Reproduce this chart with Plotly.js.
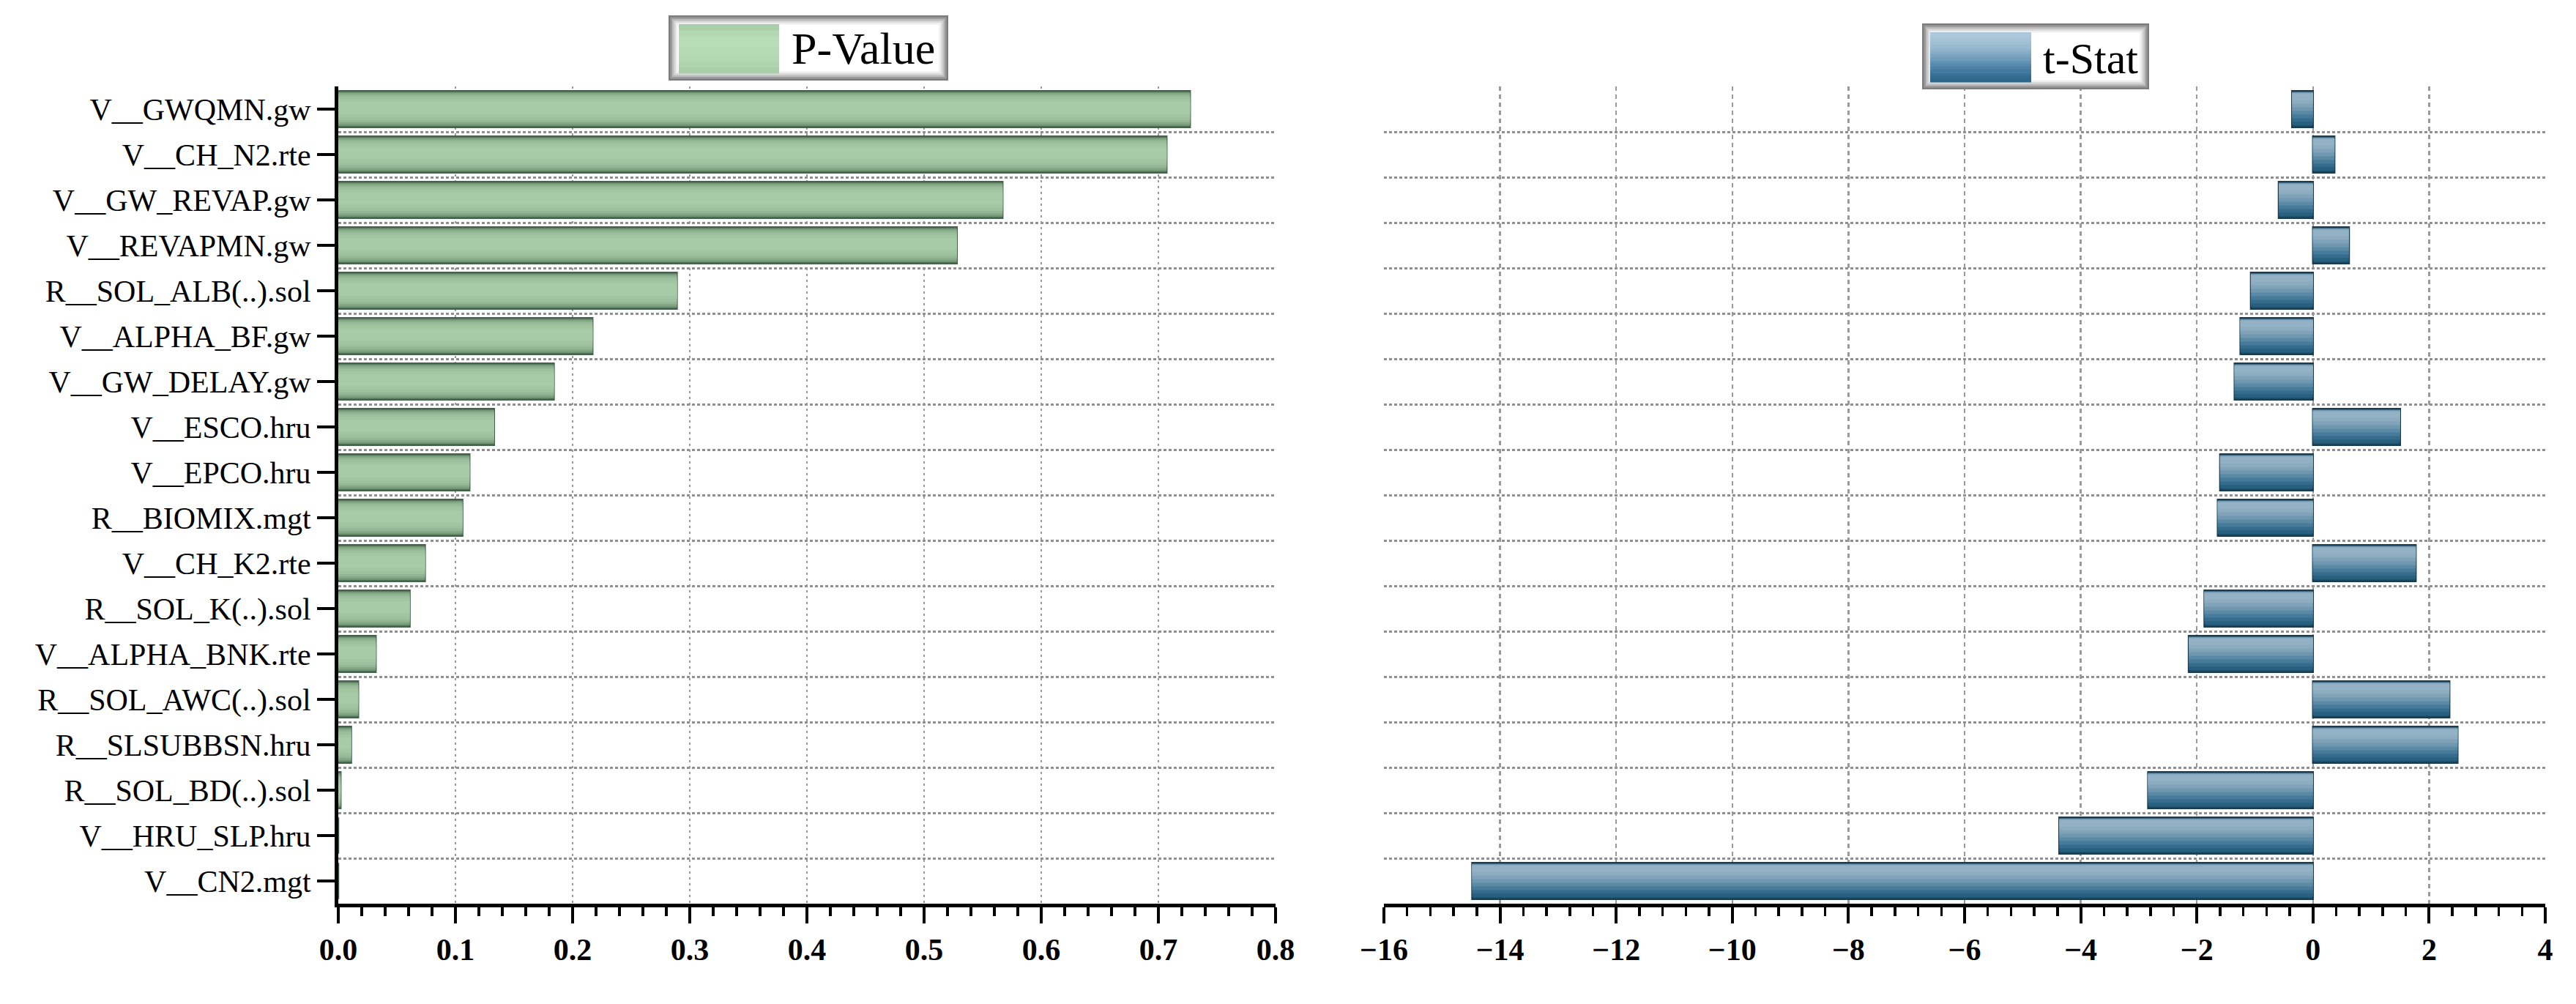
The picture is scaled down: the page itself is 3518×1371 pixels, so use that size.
<!DOCTYPE html>
<html>
<head>
<meta charset="utf-8">
<script src="https://cdn.plot.ly/plotly-3.0.1.min.js"></script>
<style>
  html, body { margin: 0; padding: 0; background: #ffffff; }
  #chart { width: 3518px; height: 1371px; }
</style>
</head>
<body>
<div id="chart"></div>
<script>
// ---------------- data ----------------
const categories = [
  'V__GWQMN.gw', 'V__CH_N2.rte', 'V__GW_REVAP.gw', 'V__REVAPMN.gw',
  'R__SOL_ALB(..).sol', 'V__ALPHA_BF.gw', 'V__GW_DELAY.gw', 'V__ESCO.hru',
  'V__EPCO.hru', 'R__BIOMIX.mgt', 'V__CH_K2.rte', 'R__SOL_K(..).sol',
  'V__ALPHA_BNK.rte', 'R__SOL_AWC(..).sol', 'R__SLSUBBSN.hru', 'R__SOL_BD(..).sol',
  'V__HRU_SLP.hru', 'V__CN2.mgt'
];
const pValues = [0.727, 0.707, 0.567, 0.528, 0.289, 0.217, 0.184, 0.133,
                 0.112, 0.106, 0.074, 0.061, 0.032, 0.017, 0.011, 0.002,
                 0.000, 0.000];
const tStat = [-0.36, 0.37, -0.59, 0.62, -1.07, -1.25, -1.35, 1.50,
               -1.60, -1.64, 1.77, -1.87, -2.14, 2.35, 2.49, -2.84,
               -4.37, -14.48];
const legendNames = ['P-Value', 't-Stat'];

// ---------------- helpers ----------------
const W = 3518, H = 1371;
const FONT = 'Liberation Serif, Times New Roman, serif';
const rowIndex = categories.map((c, i) => i);
const boundaries = rowIndex.slice(1).map(i => i - 0.5);
const px = x => x / W;
const py = y => 1 - y / H;

// each layer: [top, bottom] (in row units relative to the row centre), colour
function layerTraces(xVals, xa, ya, layers) {
  return layers.map(L => ({
    type: 'bar', orientation: 'h',
    x: xVals, y: rowIndex,
    xaxis: xa, yaxis: ya,
    offset: L.top,
    width: L.bottom - L.top,
    marker: { color: L.color, line: { color: L.line || L.color, width: L.lw || 0 } },
    showlegend: false, hoverinfo: 'x+y'
  }));
}

const greenLayers = [
  { top: -0.40, bottom: 0.40, color: '#5d7f5e', line: '#43634a', lw: 2.5 },
  { top: -0.375, bottom: 0.37, color: '#729674' },
  { top: -0.35, bottom: 0.335, color: '#85a986' },
  { top: -0.32, bottom: 0.29, color: '#93b794' },
  { top: -0.28, bottom: 0.24, color: '#9cc09c' },
  { top: -0.23, bottom: 0.18, color: '#a2c5a2' },
  { top: -0.16, bottom: 0.10, color: '#a7caa7' }
];
const blueLayers = [
  { top: -0.40, bottom: 0.40, color: '#1f5475', line: '#1a3c51', lw: 2.5 },
  { top: -0.385, bottom: 0.35, color: '#28607f' },
  { top: -0.38, bottom: 0.28, color: '#356c8d' },
  { top: -0.375, bottom: 0.20, color: '#477b9a' },
  { top: -0.37, bottom: 0.12, color: '#5b8aa6' },
  { top: -0.365, bottom: 0.04, color: '#6f97b0' },
  { top: -0.36, bottom: -0.04, color: '#80a3b9' },
  { top: -0.35, bottom: -0.12, color: '#8cacc0' },
  { top: -0.33, bottom: -0.20, color: '#94b2c5' }
];

const data = [
  ...layerTraces(pValues, 'x', 'y', greenLayers),
  ...layerTraces(tStat, 'x2', 'y2', blueLayers)
];

// ---------------- axes ----------------
const yDomain = [py(1234), py(118)];
const tickFontX = { family: FONT, size: 42, color: '#000', weight: 'bold' };
const hGrid = { tickmode: 'array', tickvals: boundaries, ticks: '', showgrid: true,
                gridcolor: '#8f8f8f', gridwidth: 3, griddash: '4px,3px' };

const layout = {
  width: W, height: H,
  margin: { l: 0, r: 0, t: 0, b: 0 },
  paper_bgcolor: '#ffffff', plot_bgcolor: 'rgba(0,0,0,0)',
  barmode: 'overlay',
  showlegend: false,
  font: { family: FONT, color: '#000' },
  xaxis: {
    domain: [px(462), px(1742)], anchor: 'y',
    range: [0, 0.8], tick0: 0, dtick: 0.1, tickformat: '.1f',
    ticks: 'outside', ticklen: 22, tickwidth: 4, tickcolor: '#000',
    showline: true, linewidth: 5, linecolor: '#000',
    showgrid: true, gridcolor: '#9a9a9a', gridwidth: 2.5, griddash: '3px,5px',
    zeroline: false, tickfont: tickFontX,
    minor: { dtick: 0.02, ticks: 'outside', ticklen: 12, tickwidth: 3.5, tickcolor: '#000', showgrid: false }
  },
  yaxis: {
    domain: yDomain, anchor: 'x',
    range: [17.5, -0.5],
    tickmode: 'array', tickvals: rowIndex, ticktext: categories,
    ticks: 'outside', ticklen: 24, tickwidth: 4, tickcolor: '#000',
    showline: true, linewidth: 5, linecolor: '#000',
    showgrid: false, zeroline: false,
    tickfont: { family: FONT, size: 42, color: '#000' },
    minor: hGrid
  },
  xaxis2: {
    domain: [px(1890), px(3476)], anchor: 'y2',
    range: [-16, 4], tick0: 0, dtick: 2,
    ticks: 'outside', ticklen: 22, tickwidth: 4, tickcolor: '#000',
    showline: true, linewidth: 5, linecolor: '#000',
    showgrid: true, gridcolor: '#9a9a9a', gridwidth: 2.5, griddash: '6px,5px',
    zeroline: false, tickfont: tickFontX,
    minor: { dtick: 0.4, ticks: 'outside', ticklen: 12, tickwidth: 3.5, tickcolor: '#000', showgrid: false }
  },
  yaxis2: {
    domain: yDomain, anchor: 'x2',
    range: [17.5, -0.5],
    tickmode: 'array', tickvals: rowIndex, showticklabels: false,
    ticks: '', showline: false, showgrid: false, zeroline: false,
    minor: hGrid
  },
  shapes: [],
  annotations: []
};

// ---------------- custom legends (boxes with bevelled frame) ----------------
function rect(x0, y0, x1, y1, fill) {
  return { type: 'rect', xref: 'paper', yref: 'paper',
           x0: px(x0), x1: px(x1), y0: py(y1), y1: py(y0),
           fillcolor: fill, line: { width: 0 }, layer: 'above' };
}
function legendBox(x0, y0, x1, y1) {
  const greys = ['#7d7d7d', '#9c9c9c', '#bcbcbc', '#d9d9d9', '#eeeeee', '#ffffff'];
  return greys.map((g, k) => rect(x0 + k * 2.5, y0 + k * 2.5, x1 - k * 2.5, y1 - k * 2.5, g));
}
function gradientSwatch(x0, y0, x1, y1, colors) {
  const n = colors.length, h = (y1 - y0) / n;
  return colors.map((c, k) => rect(x0, y0 + k * h, x1, y0 + (k + 1) * h + 0.6, c));
}

layout.shapes.push(...legendBox(913, 21, 1295, 110));
layout.shapes.push(...gradientSwatch(927, 33, 1064, 100,
  ['#a9cfa9', '#b2d8b2', '#b7ddb7', '#b7ddb7', '#b5dbb5', '#b3d9b3', '#afd5af', '#a9cfa9']));
layout.annotations.push({
  xref: 'paper', yref: 'paper', x: px(1079), y: py(66), xanchor: 'left', yanchor: 'middle',
  text: legendNames[0], showarrow: false, font: { family: FONT, size: 62, color: '#000' }
});

layout.shapes.push(...legendBox(2625, 32, 2935, 122));
layout.shapes.push(...gradientSwatch(2636, 44, 2774, 112,
  ['#abc9da', '#a8c6d8', '#a4c3d5', '#9fbfd3', '#98bacf', '#90b4cb', '#86adc6', '#7ba5c0',
   '#6f9cba', '#6393b3', '#578aac', '#4c81a5', '#42799e', '#397297', '#326b90', '#2d668b']));
layout.annotations.push({
  xref: 'paper', yref: 'paper', x: px(2788), y: py(80), xanchor: 'left', yanchor: 'middle',
  text: legendNames[1], showarrow: false, font: { family: FONT, size: 60, color: '#000' }
});

Plotly.newPlot('chart', data, layout, { staticPlot: true, displayModeBar: false });
</script>
</body>
</html>
